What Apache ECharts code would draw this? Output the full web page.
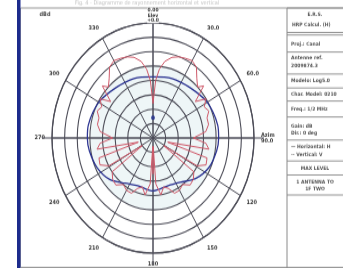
<!DOCTYPE html>
<html>
<head>
<meta charset="utf-8">
<script src="https://cdn.jsdelivr.net/npm/echarts@6/dist/echarts.min.js"></script>
<style>
  html, body { margin: 0; padding: 0; background: #fff; overflow: hidden; }
  #wrap { width: 343px; height: 268px; overflow: hidden; }
  /* the scanned plot is stretched vertically, so stretch the whole chart */
  #chart { width: 343px; height: 235px; transform: scaleY(1.14); transform-origin: 0 0; }
</style>
</head>
<body>
<div id="wrap"><div id="chart"></div></div>
<script>
// angles: degrees clockwise from north, values on a 0..40 radial scale
var redAngles = [0, 3, 6, 10, 15, 20, 25, 30, 35, 40, 45, 48, 53, 57, 62, 67, 72, 78, 84, 90,
  95, 100, 104, 108, 114, 119, 122, 126, 132, 138, 144, 150, 156, 161, 166, 171, 176, 178, 180, 182,
  184, 189, 194, 199, 204, 210, 216, 222, 228, 234, 238, 241, 246, 252, 256, 260, 265, 270, 276, 282,
  288, 293, 298, 303, 307, 312, 315, 320, 325, 330, 335, 340, 345, 350, 354, 357, 360];
var redValues = [12, 20, 24, 27, 29, 30, 30.5, 31, 30, 27, 25, 27, 21, 25, 23, 24, 22.5, 22.5, 21, 16,
  21, 22.5, 6, 22.5, 23, 20, 5, 20, 21.5, 22, 20, 21, 21, 18.5, 17.5, 20, 16, 3, 12.5, 3,
  16, 20, 17.5, 18.5, 21, 21, 20, 22, 21.5, 20, 5, 20, 23, 22.5, 6, 22.5, 21, 16, 21, 22.5,
  22.5, 24, 23, 25, 21, 27, 25, 27, 30, 31, 30.5, 30, 29, 27, 24, 20, 12];
var blueAngles = [0, 20, 40, 60, 80, 90, 100, 115, 130, 145, 160, 180, 200, 215, 230, 245, 260, 270, 280, 300, 320, 340, 360];
var blueValues = [21.2, 22, 22.8, 24.8, 26, 26, 25.6, 24.4, 22, 18.8, 17.6, 18.4, 17.6, 19.2, 22.4, 24.4, 25.6, 26, 26, 24.8, 22.8, 22, 21.2];
var centerMark = [[7, 0]];
var angleLabels = { 0: '', 30: '30.0', 60: '60.0', 90: 'Azim\n90.0' };
var topLabel = '0.00\nElev\n+0.0';

var panelLines = [7, 28.5, 30.7, 45.6, 64.9, 77.2, 88.6, 102.6, 122.8, 141.2, 153.5, 171];
var panelTexts = [
  ['E.R.S.', 315, 13.2, 'center'],
  ['HRP Calcul. (H)', 292, 21.9, 'left'],
  ['Proj.: Canal', 291, 38.6, 'left'],
  ['Antenne ref.', 291, 50.9, 'left'],
  ['2009874.3', 291, 57.9, 'left'],
  ['Modelo: Log5.0', 291, 71, 'left'],
  ['Char. Model: 0210', 291, 82.5, 'left'],
  ['Freq.: 1/2 MHz', 291, 95.6, 'left'],
  ['Gain: dB', 291, 110.5, 'left'],
  ['Dir.: 0 deg', 291, 116.7, 'left'],
  ['\u2014 Horizontal: H', 291, 129, 'left'],
  ['-- Vertical: V', 291, 136, 'left'],
  ['MAX LEVEL', 315, 147.4, 'center'],
  ['1 ANTENNA TO', 315, 159.6, 'center'],
  ['1F TWO', 315, 165.8, 'center']
];

var gridColor = '#4d4d58';
var cx = 153, cy = 121;

function pairs(vals, angs) {
  return angs.map(function (a, i) { return [vals[i], a]; });
}

var graphic = [
  { type: 'rect', shape: { x: 20.5, y: 7, width: 330, height: 227.5 }, style: { fill: null, stroke: '#9a9a9a', lineWidth: 1 }, z: 0 },
  { type: 'rect', shape: { x: 17, y: 0, width: 3.5, height: 235 }, style: { fill: '#1d2b8c' }, z: 5 },
  { type: 'line', shape: { x1: 287, y1: 7, x2: 287, y2: 235 }, style: { stroke: '#8a8a8a', lineWidth: 1 }, z: 5 },
  { type: 'text', left: 75, top: 0, style: { text: 'Fig. 4 - Diagramme de rayonnement horizontal et vertical', fill: '#c4c4c4', font: '5px "DejaVu Sans"' }, z: 5 },
  { type: 'text', x: 45, y: 13, style: { text: 'dBd', fill: '#444', font: 'bold 5px "DejaVu Sans"', textAlign: 'center', textVerticalAlign: 'middle' }, z: 5 },
  { type: 'text', x: cx, y: 13.5, style: { text: topLabel, fill: '#3a3a3a', font: 'bold 4.5px "DejaVu Sans"', lineHeight: 4.5, textAlign: 'center', textVerticalAlign: 'middle', backgroundColor: '#fff' }, z: 6 }
];
panelLines.forEach(function (y) {
  graphic.push({ type: 'line', shape: { x1: 287, y1: y, x2: 343, y2: y }, style: { stroke: '#8a8a8a', lineWidth: 0.9 }, z: 5 });
});
panelTexts.forEach(function (t) {
  graphic.push({ type: 'text', x: t[1], y: t[2], style: { text: t[0], fill: '#555', font: 'bold 4.5px "DejaVu Sans"', textAlign: t[3], textVerticalAlign: 'middle' }, z: 5 });
});

var myChart = echarts.init(document.getElementById('chart'));
var option = {
  animation: false,
  backgroundColor: '#fff',
  graphic: graphic,
  polar: [
    { center: [cx, cy], radius: 101 },
    { center: [cx, cy], radius: 63 },
    { center: [cx, cy], radius: 111 }
  ],
  radiusAxis: [
    {
      polarIndex: 0, type: 'value', min: 0, max: 40, interval: 5,
      axisLine: { show: false }, axisTick: { show: false }, axisLabel: { show: false },
      splitLine: { lineStyle: { color: gridColor, width: 1.1 } }, z: 2
    },
    { polarIndex: 1, type: 'value', min: 0, max: 40, show: false },
    { polarIndex: 2, type: 'value', min: 0, max: 40, show: false }
  ],
  angleAxis: [
    {
      polarIndex: 0, type: 'value', min: 0, max: 360, interval: 30, startAngle: 90, clockwise: true,
      axisLine: { lineStyle: { color: gridColor, width: 1.2 } },
      axisTick: { show: false },
      axisLabel: {
        fontSize: 5, fontWeight: 'bold', color: '#3a3a3a', margin: 7, fontFamily: 'DejaVu Sans', lineHeight: 5.5,
        formatter: function (v) { return angleLabels[v] !== undefined ? angleLabels[v] : String(v); }
      },
      splitLine: { lineStyle: { color: gridColor, width: 1 } }, z: 2
    },
    {
      polarIndex: 1, type: 'value', min: 0, max: 360, interval: 10, startAngle: 90,
      axisLine: { show: false }, axisTick: { show: false }, axisLabel: { show: false },
      splitLine: { lineStyle: { color: '#8c9a9c', width: 0.6 } },
      splitArea: { show: true, areaStyle: { color: ['#eef6f7'] } }, z: 1
    },
    {
      polarIndex: 2, type: 'value', min: 0, max: 360, interval: 90, startAngle: 90,
      axisLine: { show: false }, axisTick: { show: false }, axisLabel: { show: false },
      splitLine: { lineStyle: { color: gridColor, width: 1 } }, z: 2
    }
  ],
  series: [
    {
      name: 'Vertical', type: 'line', coordinateSystem: 'polar', polarIndex: 0,
      data: pairs(blueValues, blueAngles), symbol: 'none', smooth: 0.3,
      lineStyle: { color: '#2d3592', width: 1.3 }, z: 4
    },
    {
      name: 'Horizontal', type: 'line', coordinateSystem: 'polar', polarIndex: 0,
      data: pairs(redValues, redAngles), symbol: 'none',
      lineStyle: { color: '#cf5a6a', width: 1 }, z: 5
    },
    {
      name: 'mark', type: 'scatter', coordinateSystem: 'polar', polarIndex: 0,
      data: centerMark, symbolSize: 4, itemStyle: { color: '#1f2f8f' }, z: 6
    }
  ]
};
myChart.setOption(option);
</script>
</body>
</html>
